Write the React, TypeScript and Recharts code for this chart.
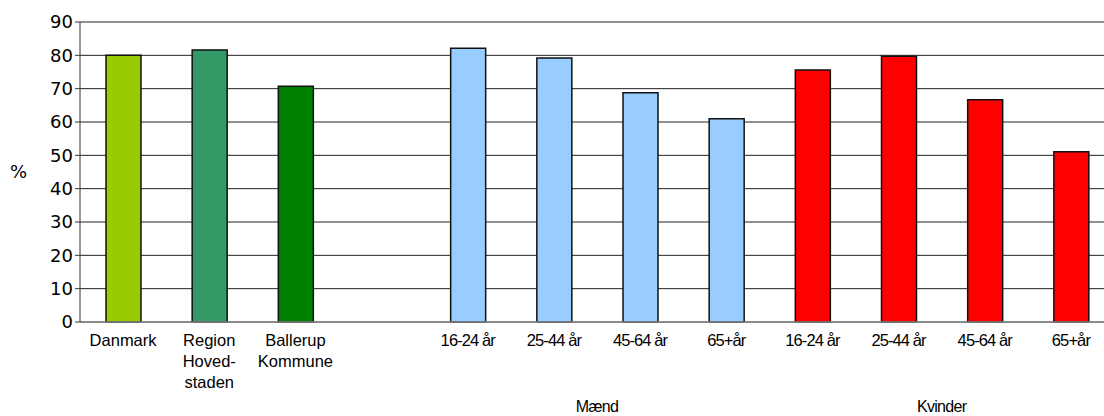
import React from "react";
import { BarChart, Bar, XAxis, YAxis, CartesianGrid, Cell, Label } from "recharts";

const categories = [
  "Danmark",
  "Region\nHoved-\nstaden",
  "Ballerup\nKommune",
  "",
  "16-24 år",
  "25-44 år",
  "45-64 år",
  "65+år",
  "16-24 år",
  "25-44 år",
  "45-64 år",
  "65+år",
];
const values = [80.0, 81.6, 70.7, null, 82.1, 79.2, 68.8, 61.0, 75.6, 79.7, 66.7, 51.1];
const groups = ["", "", "", "", "Mænd", "Mænd", "Mænd", "Mænd", "Kvinder", "Kvinder", "Kvinder", "Kvinder"];
const yTicks = [0, 10, 20, 30, 40, 50, 60, 70, 80, 90];

const barColors = ["#99CC00", "#339966", "#008000", "#ffffff", "#99CCFF", "#99CCFF", "#99CCFF", "#99CCFF", "#FF0000", "#FF0000", "#FF0000", "#FF0000"];

const data = categories.map((c, i) => ({ key: String(i), label: c, value: values[i], group: groups[i] }));

function groupSpan(name: string) {
  let first = -1;
  let last = -1;
  groups.forEach((g, i) => {
    if (g === name) {
      if (first < 0) first = i;
      last = i;
    }
  });
  return [first, last];
}

const CatTick = (props: any) => {
  const { x, payload } = props;
  const idx = Number(payload.value);
  const label = categories[idx] || "";
  const lines = label.split("\n");
  const half = payload.offset || 43.1;
  const isAge = groups[idx] !== "";
  const g = groups[idx];
  let groupEl = null;
  if (g) {
    const [first, last] = groupSpan(g);
    const mid = (first + last) / 2;
    if (idx === Math.floor(mid)) {
      const dx = (mid - idx) * 2 * half;
      groupEl = (
        <text x={x + dx} y={412} textAnchor="middle" fontFamily="Liberation Sans, Arial, sans-serif" fontSize={16} fill="#000" letterSpacing={-0.7}>
          {g}
        </text>
      );
    }
  }
  return (
    <g>
      {lines.map((ln, i) => (
        <text
          key={i}
          x={x}
          y={346 + i * 21}
          textAnchor="middle"
          fontFamily="Liberation Sans, Arial, sans-serif"
          fontSize={16.5}
          letterSpacing={isAge ? -0.9 : 0}
          fill="#000"
        >
          {ln}
        </text>
      ))}
      {groupEl}
    </g>
  );
};

export default function App() {
  return (
    <div style={{ position: "absolute", left: 0, top: 0, width: 1104, height: 416, overflow: "hidden", background: "#fff" }}>
      <BarChart
        width={1120}
        height={416}
        data={data}
        margin={{ top: 22, right: 6, bottom: 0, left: 0 }}
        barSize={35}
      >
        <CartesianGrid horizontal={true} vertical={false} stroke="#222" strokeWidth={1} />
        <XAxis
          dataKey="key"
          height={94}
          interval={0}
          tickLine={false}
          axisLine={{ stroke: "#888", strokeWidth: 1.5 }}
          tick={<CatTick />}
        />
        <YAxis
          domain={[0, 90]}
          ticks={yTicks}
          width={80}
          interval={0}
          tickSize={5}
          tickLine={{ stroke: "#333" }}
          axisLine={{ stroke: "#333" }}
          tick={{ fontFamily: "DejaVu Sans, Verdana, sans-serif", fontSize: 18, fill: "#000" }}
        >
          <Label value="%" position="insideLeft" offset={10} style={{ fontFamily: "DejaVu Sans, Verdana, sans-serif", fontSize: 18, fill: "#000" }} />
        </YAxis>
        <Bar dataKey="value" isAnimationActive={false} stroke="#111" strokeWidth={1.5}>
          {data.map((d, i) => (
            <Cell key={i} fill={barColors[i]} />
          ))}
        </Bar>
      </BarChart>
    </div>
  );
}
